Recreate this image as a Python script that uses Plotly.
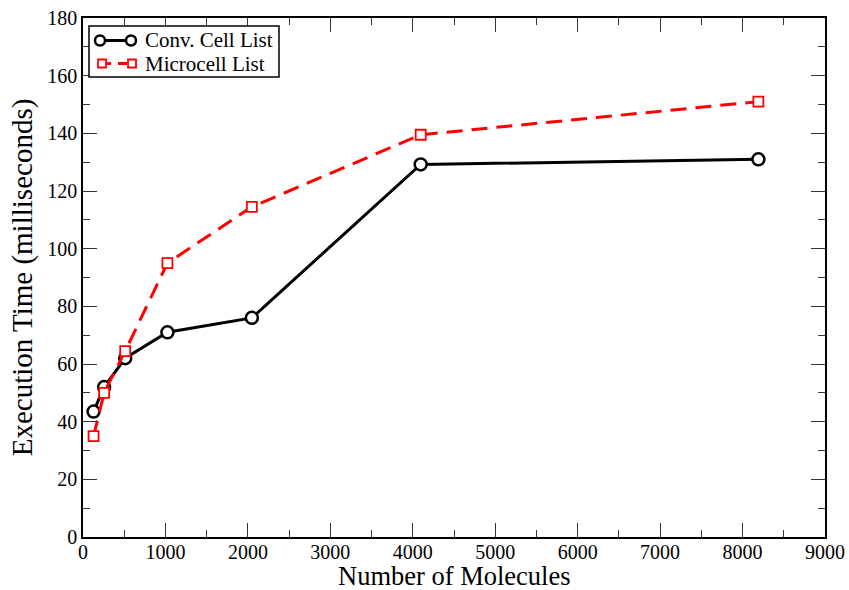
import plotly.graph_objects as go

molecules = [128, 256, 512, 1024, 2048, 4096, 8192]
conv_cell = [43.5, 52, 62, 71, 76, 129.2, 131]
microcell = [35, 50, 64.5, 95, 114.5, 139.5, 151]
series_names = ["Conv. Cell List", "Microcell List"]
x_title = "Number of Molecules"
y_title = "Execution Time (milliseconds)"

FONT = "Liberation Serif, Times New Roman, serif"
W, H = 849, 590
ML, MR, MT, MB = 83, 24, 18, 53
PW, PH = W - ML - MR, H - MT - MB

def px(xpix):
    return (xpix - ML) / PW

def py(ypix):
    return (H - MB - ypix) / PH

RED_DASH = "16px,9px"

fig = go.Figure()
fig.add_trace(go.Scatter(
    x=molecules, y=conv_cell, name=series_names[0], mode="lines+markers",
    line=dict(color="black", width=3),
    marker=dict(symbol="circle", size=12, color="white", line=dict(color="black", width=2.5)),
    showlegend=False,
))
fig.add_trace(go.Scatter(
    x=molecules, y=microcell, name=series_names[1], mode="lines+markers",
    line=dict(color="red", width=3, dash=RED_DASH),
    marker=dict(symbol="square", size=10, color="white", line=dict(color="red", width=1.8)),
    showlegend=False,
))

axis_common = dict(
    showgrid=False, zeroline=False, showline=True, linecolor="black", linewidth=1.5,
    ticks="inside", ticklen=14, tickwidth=1.3, tickcolor="#333", mirror="ticks",
    tickfont=dict(family=FONT, size=20, color="black"), automargin=False,
)
fig.update_xaxes(
    range=[0, 9000], dtick=1000, tick0=0, ticklabelstandoff=-4,
    minor=dict(ticks="inside", ticklen=7, dtick=500, tickcolor="#333", tickwidth=1.3),
    **axis_common,
)
fig.update_yaxes(
    range=[0, 180], dtick=20, tick0=0,
    minor=dict(ticks="inside", ticklen=7, dtick=10, tickcolor="#333", tickwidth=1.3),
    title=dict(text=y_title, font=dict(family=FONT, size=29, color="black"), standoff=6),
    **axis_common,
)

# custom legend (Grace style: symbol - line - symbol)
shapes = [dict(type="rect", xref="paper", yref="paper", x0=px(89), x1=px(279), y0=py(77), y1=py(26),
               line=dict(color="black", width=1.5), fillcolor="white", layer="above")]
rows = [40.5, 63.5]
shapes.append(dict(type="line", xref="paper", yref="paper", x0=px(100), x1=px(131), y0=py(rows[0]), y1=py(rows[0]),
                   line=dict(color="black", width=3), layer="above"))
for cx in (100, 131):
    shapes.append(dict(type="circle", xref="paper", yref="paper", xsizemode="pixel", ysizemode="pixel",
                       xanchor=px(cx), yanchor=py(rows[0]), x0=-5, x1=5, y0=-5, y1=5,
                       line=dict(color="black", width=2.5), fillcolor="white", layer="above"))
shapes.append(dict(type="line", xref="paper", yref="paper", x0=px(102), x1=px(132), y0=py(rows[1]), y1=py(rows[1]),
                   line=dict(color="red", width=3, dash="9px,7px"), layer="above"))
for cx in (102, 132):
    shapes.append(dict(type="rect", xref="paper", yref="paper", xsizemode="pixel", ysizemode="pixel",
                       xanchor=px(cx), yanchor=py(rows[1]), x0=-4, x1=4, y0=-4, y1=4,
                       line=dict(color="red", width=1.8), fillcolor="white", layer="above"))
annotations = []
for name, ry in zip(series_names, rows):
    annotations.append(dict(text=name, xref="paper", yref="paper", x=px(143), y=py(ry),
                            xanchor="left", yanchor="middle", showarrow=False,
                            font=dict(family=FONT, size=21, color="black")))
# x-axis title
annotations.append(dict(text=x_title, xref="paper", yref="paper", x=0.5, y=py(576),
                        xanchor="center", yanchor="middle", showarrow=False, borderpad=0,
                        font=dict(family=FONT, size=26.5, color="black")))

fig.update_layout(
    width=W, height=H,
    margin=dict(l=ML, r=MR, t=MT, b=MB),
    plot_bgcolor="white", paper_bgcolor="white",
    shapes=shapes, annotations=annotations, showlegend=False,
)
fig.write_html("out.html", post_script="document.body.style.margin='0';",
               config={"displayModeBar": False})
